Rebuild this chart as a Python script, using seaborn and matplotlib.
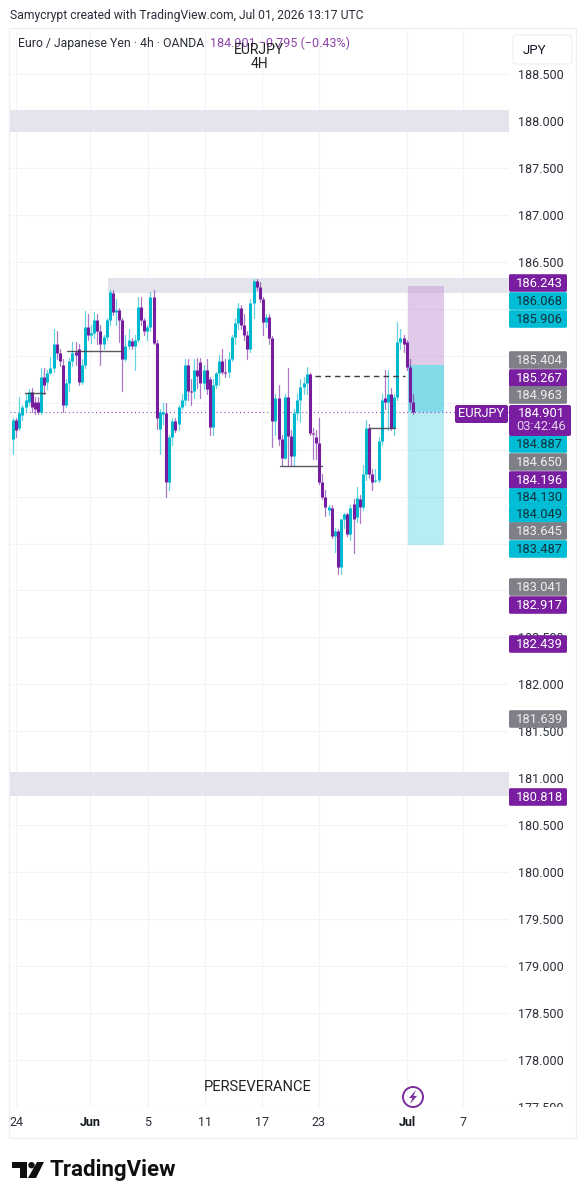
import pandas as pd
import numpy as np
import matplotlib
matplotlib.use("Agg")
import matplotlib.pyplot as plt
from matplotlib.patches import Rectangle, FancyBboxPatch, Circle, Polygon
import seaborn as sns

# 4h candles
opens = [184.61,184.82,184.73,184.87,184.95,185.01,185.11,185.01,185.01,184.90,185.27,185.22,185.32,185.37,185.62,185.53,185.40,184.98,185.21,185.44,185.54,185.57,185.22,185.40,185.81,185.72,185.74,185.88,185.76,185.62,185.70,185.88,186.17,185.96,185.99,185.88,185.46,185.60,185.66,185.60,185.67,186.02,185.88,185.76,185.81,186.13,185.64,184.72,184.88,184.89,184.15,184.63,184.80,184.77,184.95,185.03,185.40,185.12,185.12,185.35,185.43,185.21,185.35,185.25,184.74,185.19,185.32,185.44,185.33,185.33,185.46,185.70,185.85,186.01,185.83,185.72,185.57,186.06,186.29,186.23,186.10,185.86,185.91,185.69,184.80,185.05,184.61,184.41,185.06,184.64,184.43,184.89,185.03,185.17,185.21,185.30,184.68,184.63,184.57,184.16,183.99,183.86,183.88,183.58,183.63,183.25,183.76,183.81,183.60,183.92,183.78,183.97,183.89,184.24,184.73,184.24,184.17,184.18,184.59,185.05,185.01,185.09,184.73,185.06,185.65,185.69,185.65,185.38,185.01]
closes = [184.82,184.71,184.89,184.95,185.03,185.11,184.95,184.93,184.90,185.27,185.19,185.32,185.37,185.62,185.53,185.44,184.98,185.21,185.44,185.53,185.51,185.22,185.40,185.81,185.72,185.74,185.88,185.76,185.62,185.70,185.88,186.18,185.96,185.99,185.88,185.46,185.60,185.67,185.60,185.67,186.02,185.88,185.76,185.81,186.13,185.64,184.84,184.90,184.90,184.15,184.63,184.80,184.71,184.95,185.03,185.40,185.12,185.11,185.35,185.28,185.21,185.35,185.14,184.74,185.19,185.32,185.44,185.33,185.32,185.46,185.70,185.85,186.01,185.83,185.72,185.57,186.06,186.29,186.23,186.10,185.86,185.91,185.69,184.80,185.05,184.61,184.41,185.06,184.64,184.43,184.89,185.03,185.17,185.21,185.30,184.68,184.67,184.57,184.16,183.99,183.89,183.89,183.58,183.63,183.25,183.76,183.81,183.60,183.88,183.76,183.98,183.89,184.24,184.73,184.24,184.16,184.18,184.59,185.03,185.01,185.09,184.73,185.06,185.65,185.69,185.62,185.38,185.01,184.90]
highs = [184.84,184.84,185.06,184.98,185.09,185.14,185.16,185.06,185.06,185.37,185.37,185.35,185.49,185.78,185.76,185.57,185.46,185.25,185.48,185.65,185.65,185.62,185.46,185.98,185.94,185.83,185.97,185.94,185.83,185.72,185.90,186.20,186.20,186.10,186.01,185.90,185.72,185.78,185.69,185.72,186.12,186.12,185.90,185.83,186.18,186.20,185.67,184.93,185.00,185.00,184.66,184.84,184.84,184.98,185.09,185.46,185.46,185.25,185.46,185.48,185.48,185.40,185.46,185.27,185.25,185.33,185.51,185.57,185.46,185.54,185.72,185.90,186.06,186.04,185.94,185.76,186.10,186.32,186.32,186.28,186.12,185.94,185.94,185.71,185.09,185.19,184.66,185.09,185.37,184.71,184.93,185.09,185.25,185.27,185.38,185.32,184.73,184.71,184.84,184.24,184.07,183.91,183.91,183.67,183.65,183.76,183.83,183.83,183.91,183.97,184.10,184.02,184.34,184.82,184.77,184.29,184.29,184.63,185.09,185.35,185.35,185.16,185.09,185.86,185.78,185.72,185.67,185.46,185.09]
lows = [184.45,184.63,184.71,184.82,184.90,184.98,184.90,184.88,184.88,184.88,185.09,185.14,185.30,185.33,185.46,185.39,184.90,184.95,185.12,185.39,185.40,185.19,185.20,185.37,185.67,185.63,185.69,185.62,185.40,185.57,185.67,185.83,185.93,185.83,185.65,185.12,185.44,185.57,185.57,185.35,185.65,185.83,185.72,185.67,185.76,185.62,184.72,184.45,184.77,183.99,184.07,184.55,184.69,184.71,184.93,184.98,185.03,184.98,185.05,185.16,185.05,185.14,185.09,184.66,184.66,185.16,185.19,185.30,185.27,185.27,185.44,185.62,185.78,185.78,185.67,185.46,185.54,185.90,186.20,186.07,185.72,185.80,185.62,184.53,184.66,184.55,184.34,184.40,184.34,184.32,184.32,184.82,184.79,185.09,185.09,184.66,184.40,184.40,184.13,183.97,183.79,183.80,183.56,183.41,183.17,183.17,183.67,183.58,183.54,183.40,183.73,183.72,183.86,184.18,184.20,184.07,184.16,184.15,184.55,184.93,184.71,184.71,184.66,185.03,185.57,185.54,185.35,184.93,184.88]

last_price = 184.901
price_ticks = [177.5,178,178.5,179,179.5,180,180.5,181,181.5,182,182.5,183,183.5,184,184.5,185,185.5,186,186.5,187,187.5,188,188.5]
hidden_ticks = [183,183.5,184,184.5,185,185.5,186]  # sit behind the price tags
time_ticks = [1, 24.6, 43.2, 61.4, 79.7, 97.9, 126.1, 144]
time_labels = ["24", "Jun", "5", "11", "17", "23", "Jul", "7"]
bold_times = ["Jun", "Jul"]

zones = [(-1, 188.12, 187.88), (30.4, 186.33, 186.17), (-1, 181.07, 180.81)]
levels = [(17.3, 35, 185.55), (3.8, 10.2, 185.10), (85.4, 98.9, 184.33), (113.9, 122.2, 184.73)]
dashed_level = (96.6, 125.4, 185.28)
box_span = (126.4, 137.9)
box_stop, box_entry, box_target = 186.243, 185.404, 183.487

tag_prices = [186.243,186.068,185.906,185.404,185.267,184.963,184.887,184.650,184.196,184.130,184.049,183.645,183.487,183.041,182.917,182.439,181.639,180.818]
tag_kinds = ["p","t","t","g","p","g","t","g","p","t","t","g","t","g","p","p","g","p"]
tag_rows = [283,301,319,360,378,395,444,462,480,497,514,531,549,587,605,644,719,797]

PURPLE = "#761c9e"
TEAL = "#00b8cf"
kind_face = {"p": "#7a1ea1", "t": "#00bcd4", "g": "#7f8087"}
kind_text = {"p": "#ffffff", "t": "#10323c", "g": "#eeeeee"}

sns.set_theme(style="white")
plt.rcParams["font.family"] = ["Roboto", "DejaVu Sans"]

# build candle table for seaborn
n = len(closes)
bar = np.arange(n)
candles = pd.DataFrame({"bar": bar, "open": opens, "high": highs, "low": lows, "close": closes})
candles["side"] = np.where(candles["close"] >= candles["open"], "up", "down")
wicks = candles.melt(id_vars=["bar", "side"], value_vars=["high", "low"], value_name="price")
bodies = candles.melt(id_vars=["bar", "side"], value_vars=["open", "close"], value_name="price")
colors = {"up": TEAL, "down": PURPLE}

fig = plt.figure(figsize=(5.86, 12), dpi=100, facecolor="white")
ax = fig.add_axes([10/586, 1 - 1107/1200, 499/586, 1076/1200])
ax.set_xlim((10 - 13) / 3.125, (509 - 13) / 3.125)
ax.set_ylim(177.51, 188.957)

ax.set_yticks(price_ticks)
ax.set_yticklabels(["" if p in hidden_ticks else f"{p:.3f}" for p in price_ticks], fontsize=9, color="#2a2e39")
for lab, p in zip(ax.get_yticklabels(), price_ticks):
    if p == int(p):
        lab.set_fontweight("bold")
        lab.set_color("#131722")
ax.yaxis.tick_right()
ax.tick_params(axis="y", length=0, pad=6.5)
ax.set_xticks(time_ticks)
ax.tick_params(axis="x", length=0, labelbottom=False)
ax.grid(True, color="#f2f3f6", linewidth=0.8)
ax.set_axisbelow(True)
for s in ax.spines.values():
    s.set_visible(False)

for x0, top, bottom in zones:
    ax.fill_between([x0, ax.get_xlim()[1]], bottom, top, color="#e3e4ec", lw=0, zorder=1)

ax.fill_between(box_span, box_entry, box_stop, color="#c79fd8", alpha=0.55, lw=0, zorder=1.5)
ax.fill_between(box_span, last_price, box_entry, color="#4fcde0", alpha=0.7, lw=0, zorder=1.5)
ax.fill_between(box_span, box_target, last_price, color="#00bcd4", alpha=0.28, lw=0, zorder=1.5)

sns.lineplot(data=wicks, x="bar", y="price", hue="side", units="bar", estimator=None, palette=colors,
             sort=False, legend=False, ax=ax, linewidth=0.9, alpha=0.6, zorder=3)
sns.lineplot(data=bodies, x="bar", y="price", hue="side", units="bar", estimator=None, palette=colors,
             sort=False, legend=False, ax=ax, linewidth=2.2, solid_capstyle="butt", zorder=3.5)
ax.set_xlabel("")
ax.set_ylabel("")

for x0, x1, p in levels:
    ax.plot([x0, x1], [p, p], color="#3c3c44", lw=1.0, alpha=0.85, zorder=4)
ax.plot(dashed_level[:2], [dashed_level[2]] * 2, color="#3c3c44", lw=1.0, ls=(0, (4, 3)), zorder=4)
ax.axhline(last_price, color=PURPLE, lw=0.8, ls=(0, (1, 2.5)), alpha=0.8, zorder=2.5)

# time strip below the plot, it also hides the lower half of 177.500
strip = fig.add_axes([10/586, 1 - 1137/1200, 566/586, 30/1200], zorder=5, facecolor="white")
strip.set_xlim((10 - 13) / 3.125, (576 - 13) / 3.125)
strip.set_ylim(0, 1)
strip.set_yticks([])
strip.set_xticks(time_ticks)
strip.set_xticklabels(time_labels, fontsize=9, color="#2a2e39")
for lab, t in zip(strip.get_xticklabels(), time_labels):
    if t in bold_times:
        lab.set_fontweight("bold")
        lab.set_color("#131722")
strip.tick_params(axis="x", length=0, pad=-15)
for s in strip.spines.values():
    s.set_visible(False)

# overlay in pixels for tags, header and logo
ov = fig.add_axes([0, 0, 1, 1], zorder=10)
ov.set_xlim(0, 586)
ov.set_ylim(1200, 0)
ov.axis("off")
ov.patch.set_alpha(0)

ov.add_patch(Rectangle((9, 28), 567, 1110, fill=False, ec="#eef0f3", lw=1))
ov.add_patch(FancyBboxPatch((513, 35), 59, 29, boxstyle="round,pad=0,rounding_size=3", fc="white", ec="#eceef2", lw=0.8))
ov.text(523, 50, "JPY", fontsize=9.5, color="#131722", va="center")

ov.text(10, 15.5, "Samycrypt created with TradingView.com, Jul 01, 2026 13:17 UTC", fontsize=8.75, color="#2a2e39", va="center")
ov.text(18, 43.5, "Euro / Japanese Yen · 4h · OANDA", fontsize=8.8, color="#2a2e39", va="center")
ov.text(210, 43.5, "184.901 −0.795 (−0.43%)", fontsize=9, color="#8e44a8", va="center")
ov.text(259, 50, "EURJPY", fontsize=10, color="#222222", va="center", ha="center")
ov.text(259, 64, "4H", fontsize=10, color="#222222", va="center", ha="center")
ov.text(258, 1087, "PERSEVERANCE", fontsize=10.5, color="#222222", va="center", ha="center")

for p, kind, row in zip(tag_prices, tag_kinds, tag_rows):
    ov.add_patch(FancyBboxPatch((509, row - 8.8), 58, 17.6, boxstyle="round,pad=0,rounding_size=1.5",
                                fc=kind_face[kind], ec="none", zorder=6))
    ov.text(539, row + 0.3, f"{p:.3f}", fontsize=9.3, color=kind_text[kind], ha="center", va="center", zorder=7)

ov.add_patch(FancyBboxPatch((509, 405), 62, 31, boxstyle="round,pad=0,rounding_size=2", fc="#7a1ea1", ec="none", zorder=8))
ov.text(541, 413.5, f"{last_price:.3f}", fontsize=9.3, color="white", ha="center", va="center", zorder=9)
ov.text(541, 427, "03:42:46", fontsize=9.3, color="#e3cfee", ha="center", va="center", zorder=9)
ov.add_patch(FancyBboxPatch((455, 405), 53, 18, boxstyle="round,pad=0,rounding_size=2", fc="#7a1ea1", ec="none", zorder=8))
ov.text(481.5, 413.5, "EURJPY", fontsize=9.3, color="white", ha="center", va="center", zorder=9)

# lightning badge
ov.add_patch(Circle((413, 1097), 10, fill=False, ec="#7b2d9e", lw=1.4, zorder=6))
ov.add_patch(Polygon([(416, 1090), (409, 1098), (412.5, 1098), (410, 1104), (417, 1096), (413.5, 1096)],
                     fc="#7b2d9e", ec="none", zorder=6))

# TradingView logo
ov.add_patch(Polygon([(12, 1162), (27, 1162), (27, 1178), (20, 1178), (20, 1168), (12, 1168)], fc="#0f0f0f", ec="none"))
ov.add_patch(Circle((31.5, 1165.2), 3.2, fc="#0f0f0f", ec="none"))
ov.add_patch(Polygon([(37, 1162), (44, 1162), (36, 1178), (28, 1178)], fc="#0f0f0f", ec="none"))
ov.text(50, 1170, "TradingView", fontsize=16, fontweight="bold", color="#0f0f0f", va="center")

fig.savefig("out.png", dpi=100, facecolor="white")
plt.close(fig)
